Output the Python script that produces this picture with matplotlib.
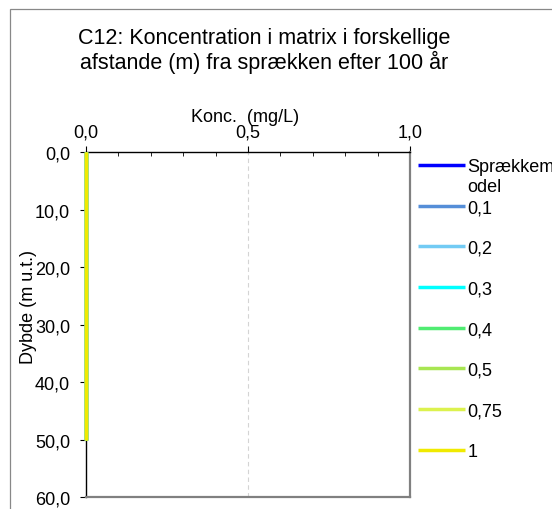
import numpy as np
import matplotlib
matplotlib.use("Agg")
import matplotlib.pyplot as plt
from matplotlib.ticker import FuncFormatter, MultipleLocator
from matplotlib.patches import Rectangle

plt.rcParams['font.family'] = ['Liberation Sans', 'DejaVu Sans']

###  Data
depth = [0.0, 10.0, 20.0, 30.0, 40.0, 50.0]
labels = ["Sprækkem", "0,1", "0,2", "0,3", "0,4", "0,5", "0,75", "1"]
label_wrap = "odel"   # rest of "Sprækkemodel", wrapped to a second line
conc = [
    [0.0, 0.0, 0.0, 0.0, 0.0, 0.0],
    [0.0, 0.0, 0.0, 0.0, 0.0, 0.0],
    [0.0, 0.0, 0.0, 0.0, 0.0, 0.0],
    [0.0, 0.0, 0.0, 0.0, 0.0, 0.0],
    [0.0, 0.0, 0.0, 0.0, 0.0, 0.0],
    [0.0, 0.0, 0.0, 0.0, 0.0, 0.0],
    [0.0, 0.0, 0.0, 0.0, 0.0, 0.0],
    [0.0, 0.0, 0.0, 0.0, 0.0, 0.0],
]
colors = ['#0000FF', '#558ED8', '#72CBF4', '#00FFFF', '#50EC72', '#A8E652', '#DCF24E', '#F0EA00']

###  Figure
W, H = 552, 510
fig = plt.figure(figsize=(W/100, H/100), dpi=100)
fig.patches.append(Rectangle((10/W, -0.1), 1.2, 1.1 - 10/H, transform=fig.transFigure,
                             fill=False, edgecolor='#888888', linewidth=0.9))

ax = fig.add_axes([86/W, 1 - 498/H, 324/W, 344.7/H])

for c, lab, col in zip(conc, labels, colors):
    ax.plot(c, depth, color=col, lw=2.5, label=lab, solid_capstyle='butt', clip_on=False, zorder=3)

ax.set_xlim(0, 1)
ax.set_ylim(60, 0)
ax.axvline(0.5, color='#D4D4D4', lw=0.8, ls=(0, (4, 3)), zorder=1)

comma = FuncFormatter(lambda v, p: ("%.1f" % v).replace('.', ','))
ax.xaxis.set_major_locator(MultipleLocator(0.5))
ax.xaxis.set_minor_locator(MultipleLocator(0.1))
ax.yaxis.set_major_locator(MultipleLocator(10))
ax.xaxis.set_major_formatter(comma)
ax.yaxis.set_major_formatter(comma)
ax.xaxis.tick_top()
ax.tick_params(axis='x', which='major', direction='out', length=4, width=0.8, pad=4.5, labelsize=13)
ax.tick_params(axis='x', which='minor', direction='in', length=3, width=0.6)
ax.tick_params(axis='y', which='major', direction='out', length=4, width=0.8, pad=7.5, labelsize=13)

for s in ['top', 'left']:
    ax.spines[s].set_color('black')
    ax.spines[s].set_linewidth(1.0)
for s in ['bottom', 'right']:
    ax.spines[s].set_color('#808080')
    ax.spines[s].set_linewidth(1.6)

ax.xaxis.set_label_position('top')
ax.set_xlabel("Konc.  (mg/L)", fontsize=13)
ax.xaxis.set_label_coords(0.49, 1.092)
ax.set_ylabel("Dybde (m u.t.)", fontsize=13, va='center')
ax.yaxis.set_label_coords(-0.178, 0.554)

fig.text(0.479, 1 - 51/H, "C12: Koncentration i matrix i forskellige\nafstande (m) fra sprækken efter 100 år",
         ha='center', va='center', fontsize=15.5, linespacing=1.1)

leg = fig.legend(loc='upper left', bbox_to_anchor=(418/W, 1 - 159.5/H), frameon=False, fontsize=13,
                 handlelength=2.6, handletextpad=0.15, labelspacing=1.31, borderpad=0, borderaxespad=0)

# second line of the wrapped first legend label, under "Sprækkem"
fig.canvas.draw()
bb = leg.get_texts()[0].get_window_extent().transformed(fig.transFigure.inverted())
fig.text(bb.x0, bb.y0 - 2.5/H, label_wrap, ha='left', va='top', fontsize=13)

fig.savefig("out.png", dpi=100)
